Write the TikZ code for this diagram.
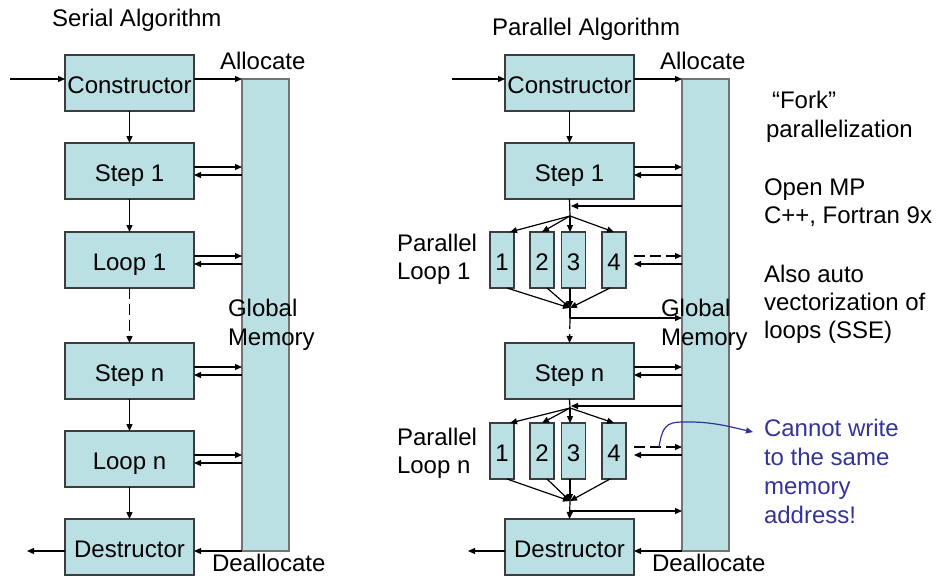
\documentclass[tikz,border=0pt]{standalone}
\usepackage{fontspec}
\setmainfont{Liberation Sans}
\usetikzlibrary{arrows.meta,calc}
\definecolor{boxfill}{RGB}{187,224,227}
\definecolor{boxline}{RGB}{60,60,60}
\definecolor{memline}{RGB}{115,115,115}
\definecolor{noteblue}{RGB}{51,51,153}

\begin{document}
\begin{tikzpicture}[x=1pt,y=-1pt,
  every node/.style={font=\fontsize{24}{28}\selectfont, inner sep=0pt, outer sep=0pt},
  stage/.style={draw=boxline, fill=boxfill, line width=1.2pt, minimum width=129pt, minimum height=56pt,
                text height=24pt, text depth=3pt},
  thread/.style={draw=boxline, fill=boxfill, line width=1.2pt, minimum width=24pt, minimum height=56pt,
                 text height=24pt, text depth=3pt},
  memory/.style={draw=memline, fill=boxfill, line width=1.2pt, minimum width=47pt, minimum height=472pt},
  arr/.style={line width=1.2pt, -{Triangle[length=7pt,width=6pt]}},
  link/.style={line width=1.2pt},
  dasharr/.style={arr, dash pattern=on 11pt off 5pt},
  txt/.style={anchor=base west},
  note/.style={anchor=base west, text=noteblue},
]
\useasboundingbox (0,0) rectangle (936,575);

% ---------------- serial algorithm ----------------
\node[txt] (stitle) at (52,27) {Serial Algorithm};
\node[stage] (sc)  at (129.5,83)  {Constructor};
\node[stage] (s1)  at (129.5,171) {Step 1};
\node[stage] (sl1) at (129.5,260) {Loop 1};
\node[stage] (sn)  at (129.5,371) {Step n};
\node[stage] (sln) at (129.5,459) {Loop n};
\node[stage] (sd)  at (129.5,547) {Destructor};
\node[memory] (sm) at (265.5,315) {};
\node[txt] (sglob) at (228,316) {Global};
\node[txt] (smem)  at (228,345) {Memory};
\node[txt] (salloc)   at (220,70)  {Allocate};
\node[txt] (sdealloc) at (212,571) {Deallocate};

\coordinate (sin)  at (10,79);
\coordinate (sout) at (27,551);

\draw[arr] (sin) -- (sc.west |- sin);
\draw[arr] (sc.east |- sin) -- (sm.west |- sin);
\draw[arr] (sc) -- (s1);
\draw[arr] (s1.south) -- (sl1.north);
\draw[dasharr] (sl1.south) -- (sn.north);
\draw[arr] (sn.south) -- (sln.north);
\draw[arr] (sln.south) -- (sd.north);
\draw[arr] (sm.south west) -- (sd.east |- sm.south);
\draw[arr] (sd.west |- sout) -- (sout);

\foreach \b/\y in {s1/171, sl1/260, sn/371, sln/459}{
  \draw[arr] (\b.east |- 0,\y-4) -- (sm.west |- 0,\y-4);
  \draw[arr] (sm.west |- 0,\y+4) -- (\b.east |- 0,\y+4);
}

% ---------------- parallel algorithm ----------------
\node[txt] (ptitle) at (492,36) {Parallel Algorithm};
\node[stage] (pc) at (569.5,83)  {Constructor};
\node[stage] (p1) at (569.5,171) {Step 1};
\node[stage] (pn) at (569.5,371) {Step n};
\node[stage] (pd) at (569.5,547) {Destructor};
\node[memory] (pm) at (705.5,315) {};

% parallel loop 1
\node[thread] (a1) at (502,260)   {1};
\node[thread] (a2) at (542,260)   {2};
\node[thread] (a3) at (573.5,260) {3};
\node[thread] (a4) at (614,260)   {4};
% parallel loop n
\node[thread] (b1) at (502,451)   {1};
\node[thread] (b2) at (542,451)   {2};
\node[thread] (b3) at (573.5,451) {3};
\node[thread] (b4) at (614,451)   {4};

\node[txt] (lab1a) at (397,251) {Parallel};
\node[txt] (lab1b) at (397,279) {Loop 1};
\node[txt] (lab2a) at (397,445) {Parallel};
\node[txt] (lab2b) at (397,473) {Loop n};

\node[txt] (pglob) at (661,316) {Global};
\node[txt] (pmem)  at (661,345) {Memory};
\node[txt] (palloc)   at (660,70)  {Allocate};
\node[txt] (pdealloc) at (652,571) {Deallocate};

\coordinate (pin)  at (452,79);
\coordinate (pout) at (468,551);

\draw[arr] (pin) -- (pc.west |- pin);
\draw[arr] (pc.east |- pin) -- (pm.west |- pin);
\draw[arr] (pc) -- (p1);
\draw[arr] (pm.south west) -- (pd.east |- pm.south);
\draw[arr] (pd.west |- pout) -- (pout);
\foreach \b/\y in {p1/171, pn/371}{
  \draw[arr] (\b.east |- 0,\y-4) -- (pm.west |- 0,\y-4);
  \draw[arr] (pm.west |- 0,\y+4) -- (\b.east |- 0,\y+4);
}

% fork / join of loop 1
\coordinate (f1) at (570,216);
\coordinate (j1) at (570,308);
\draw[link] (p1.south) -- (f1);
\draw[arr] (pm.west |- 0,206) -- (571,206);
\draw[arr] (f1) -- ([xshift=8pt]a1.north);
\draw[arr] (f1) -- (a2.north);
\draw[arr] (f1) -- (f1 |- a3.north);
\draw[arr] (f1) -- (a4.north);
\draw[arr] ([xshift=5pt]a1.south) -- (j1);
\draw[arr] ([xshift=5pt]a2.south) -- (j1);
\draw[arr] (j1 |- a3.south) -- (j1);
\draw[arr] ([xshift=-4pt]a4.south) -- (j1);
\draw[link] (j1) -- (570,318);
\draw[arr] (570,318) -- (pm.west |- 0,318);
\draw[dasharr] (570,318) -- (pn.north);
\draw[dasharr] ([xshift=8pt]a4.east |- 0,256) -- (pm.west |- 0,256);
\draw[arr] (pm.west |- 0,264) -- ([xshift=8pt]a4.east |- 0,264);

% fork / join of loop n
\coordinate (f2) at (570,408);
\coordinate (j2) at (570,501);
\draw[link] (pn.south) -- (f2);
\draw[arr] (pm.west |- 0,406) -- (571,406);
\draw[arr] (f2) -- ([xshift=8pt]b1.north);
\draw[arr] (f2) -- (b2.north);
\draw[arr] (f2) -- (f2 |- b3.north);
\draw[arr] (f2) -- (b4.north);
\draw[arr] ([xshift=5pt]b1.south) -- (j2);
\draw[arr] ([xshift=5pt]b2.south) -- (j2);
\draw[arr] (j2 |- b3.south) -- (j2);
\draw[arr] ([xshift=-4pt]b4.south) -- (j2);
\draw[arr] (j2) -- (pd.north);
\draw[arr] (570,511) -- (pm.west |- 0,511);
\draw[dasharr] ([xshift=8pt]b4.east |- 0,447) -- (pm.west |- 0,447);
\draw[arr] (pm.west |- 0,455) -- ([xshift=8pt]b4.east |- 0,455);

% notes on the right
\node[txt] (n1) at (772,109) {“Fork”};
\node[txt] (n2) at (766,137) {parallelization};
\node[txt] (n3) at (764,195) {Open MP};
\node[txt] (n4) at (764,223) {C++, Fortran 9x};
\node[txt] (n5) at (764,282) {Also auto};
\node[txt] (n6) at (764,310) {vectorization of};
\node[txt] (n7) at (764,338) {loops (SSE)};

\node[note] (w1) at (764,436) {Cannot write};
\node[note] (w2) at (764,465) {to the same};
\node[note] (w3) at (764,494) {memory};
\node[note] (w4) at (764,523) {address!};

\coordinate (cs) at (659,447);
\coordinate (ce) at (753,432);
\draw[noteblue, line width=1.2pt, -{Triangle[length=7pt,width=6pt]}]
  (cs) .. controls (663,421) and (670,422) .. (690,422)
       .. controls (715,422) and (735,428) .. (ce);
\end{tikzpicture}
\end{document}
